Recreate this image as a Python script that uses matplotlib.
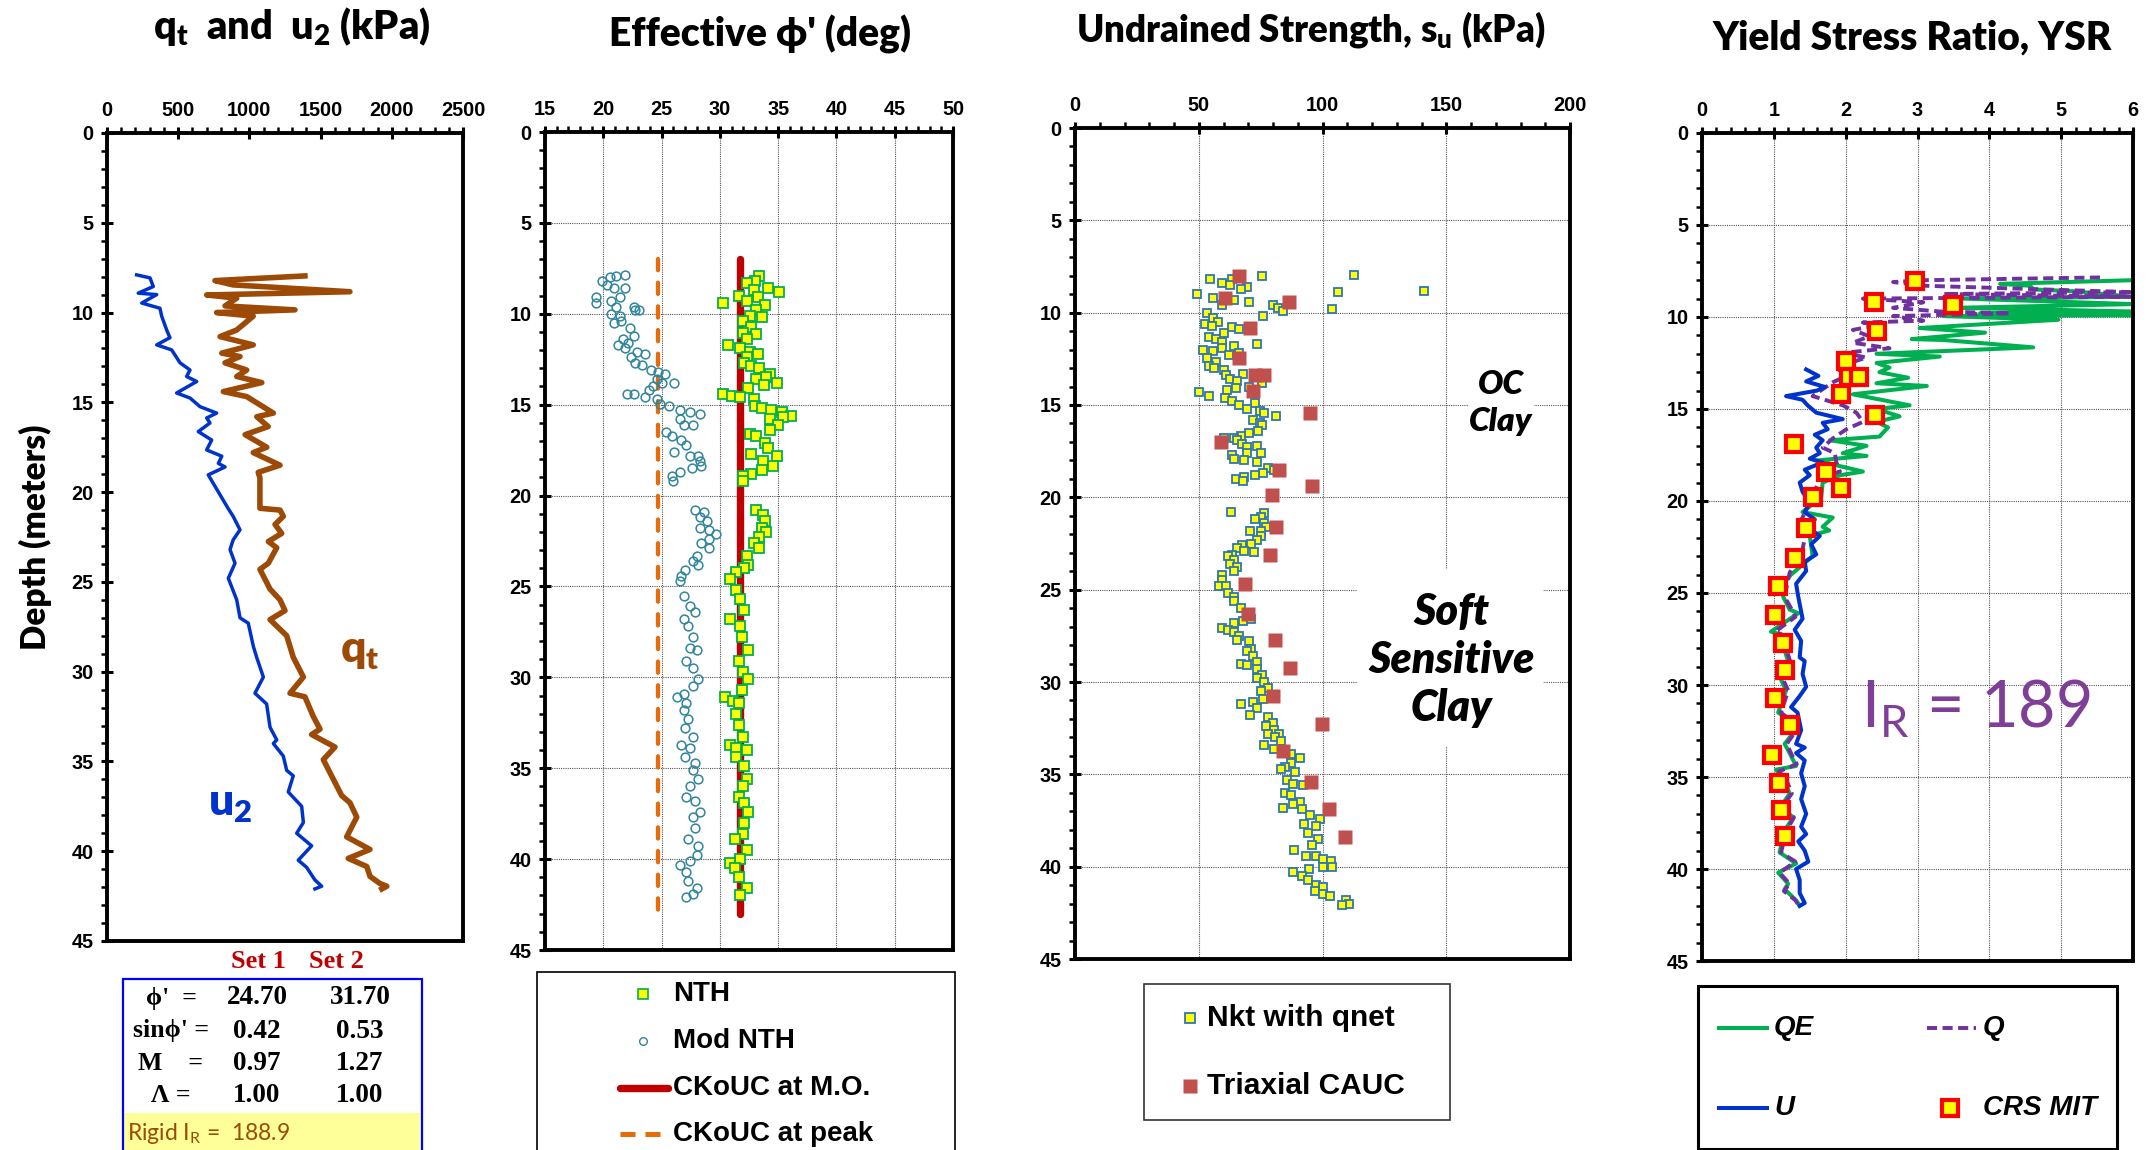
import numpy as np
import matplotlib
matplotlib.use('Agg')
import matplotlib.pyplot as plt
from matplotlib.lines import Line2D
from matplotlib.patches import Rectangle
from matplotlib.ticker import MultipleLocator

##########################################################################
##  Data
##########################################################################

# panel 1 : cone tip and pore pressure (kPa) vs depth (m)
qt_depth = [7.96, 8.22, 8.46, 8.84, 9.02, 9.2, 9.63, 9.85, 10.0, 10.2,
            10.97, 11.34, 11.8, 12.26, 12.45, 12.8, 13.2, 13.56, 13.9, 14.4,
            14.68, 15.6, 15.8, 16.35, 16.8, 17.5, 17.8, 18.5, 18.9, 19.2,
            20.9, 21.0, 21.35, 21.8, 22.3, 22.75, 23.1, 23.96, 24.3, 25.4,
            26.0, 26.6, 27.1, 28.0, 29.2, 30.3, 31.2, 31.4, 32.5, 33.2,
            33.5, 34.2, 34.9, 36.0, 36.9, 37.3, 38.1, 39.2, 39.9, 40.4,
            40.85, 41.4, 41.8, 41.95, 42.1]
qt_kpa = [1390, 758, 885, 1706, 700, 911, 829, 1320, 770, 1027,
          911, 794, 1027, 806, 934, 829, 981, 911, 1087, 817,
          981, 1168, 1052, 1132, 970, 1122, 1027, 1215, 1062, 1074,
          1074, 1215, 1238, 1180, 1227, 1133, 1192, 1133, 1074, 1145,
          1215, 1250, 1145, 1262, 1308, 1379, 1285, 1390, 1449, 1496,
          1437, 1601, 1519, 1590, 1648, 1706, 1754, 1683, 1847, 1694,
          1824, 1847, 1917, 1965, 1930]
u2_depth = [7.9, 8.07, 8.55, 8.92, 9.0, 9.47, 9.76, 10.2, 10.97, 11.4,
            11.8, 12.08, 12.8, 13.2, 13.56, 13.84, 14.48, 14.76, 15.24, 15.6,
            15.87, 16.15, 16.63, 17.1, 17.65, 18.0, 18.4, 18.6, 19.04, 20.9,
            21.35, 22.1, 22.66, 23.2, 23.96, 24.8, 26.0, 27.0, 27.3, 28.6,
            29.2, 30.3, 31.2, 31.8, 33.1, 33.8, 34.0, 34.7, 35.5, 35.8,
            36.7, 37.5, 38.4, 39.0, 39.7, 40.5, 40.9, 41.6, 41.95, 42.1]
u2_kpa = [208, 302, 325, 219, 349, 244, 372, 384, 419, 442,
          349, 454, 513, 583, 559, 630, 489, 583, 653, 770,
          700, 723, 641, 735, 700, 806, 782, 829, 711, 850,
          886, 934, 886, 864, 899, 852, 911, 934, 992, 1028,
          1051, 1098, 1039, 1121, 1145, 1192, 1168, 1238, 1262, 1308,
          1273, 1367, 1379, 1332, 1437, 1343, 1402, 1460, 1508, 1460]

# table under panel 1
table_rows = ["ϕ'  =", "sinϕ' =", "M    =", "Λ ="]
set1_vals = ["24.70", "0.42", "0.97", "1.00"]
set2_vals = ["31.70", "0.53", "1.27", "1.00"]
rigid_ir = 188.9

# panel 2 : friction angle (deg)
nth_phi = [30.3, 35.1, 34.1, 33.4, 33.0, 32.3, 32.9, 31.6, 32.3, 33.3,
           33.9, 33.1, 33.6, 32.6, 32.0, 32.7, 32.0, 33.1, 32.3, 30.7,
           31.7, 32.6, 33.3, 32.3, 32.1, 32.7, 33.4, 34.3, 34.0, 33.1,
           33.8, 34.9, 32.4, 30.3, 31.0, 31.7, 32.9, 33.0, 33.6, 34.4,
           35.3, 36.1, 35.4, 34.3, 35.0, 34.3, 32.6, 33.1, 33.9, 34.1,
           32.7, 34.9, 33.7, 34.6, 33.6, 32.7, 32.0, 32.0, 33.1, 33.7,
           33.9, 33.6, 34.0, 33.4, 32.9, 33.4, 32.3, 32.4, 32.1,
           31.4, 30.9, 31.4, 31.7, 32.1, 30.9, 31.7, 31.9, 32.4, 31.6,
           32.0, 32.4, 31.9, 30.4, 31.1, 31.6, 31.4, 31.6, 32.0, 30.9,
           31.4, 32.3, 31.4, 32.1, 32.3, 32.0, 31.6, 32.1, 32.4, 32.1,
           32.0, 31.3, 32.3, 31.7, 30.9, 31.3, 31.6, 32.3, 31.7]
nth_depth = [9.4, 8.8, 8.6, 7.9, 8.2, 8.3, 8.7, 9.0, 9.3, 9.05,
             9.5, 9.8, 10.2, 10.1, 10.4, 10.7, 11.05, 11.1, 11.4, 11.7,
             11.9, 12.1, 12.2, 12.4, 12.7, 12.9, 13.0, 13.3, 13.5, 13.6,
             13.9, 13.8, 14.1, 14.4, 14.5, 14.6, 14.7, 15.05, 15.2, 15.3,
             15.4, 15.6, 15.7, 15.8, 16.1, 16.4, 16.6, 16.7, 17.1, 17.4,
             17.7, 17.8, 18.1, 18.4, 18.6, 18.8, 18.9, 19.2, 20.8, 21.05,
             21.4, 21.8, 22.0, 22.3, 22.6, 22.9, 23.3, 23.8, 24.0,
             24.2, 24.6, 25.2, 25.7, 26.3, 26.8, 27.2, 27.8, 28.5, 29.1,
             29.7, 30.1, 30.7, 31.1, 31.3, 31.4, 32.0, 32.6, 33.3, 33.7,
             33.9, 34.0, 34.4, 34.9, 35.6, 36.0, 36.6, 36.9, 37.4, 38.0,
             38.6, 38.9, 39.5, 40.0, 40.2, 40.5, 41.0, 41.6, 42.0]
mod_phi = [19.4, 19.4, 19.9, 20.6, 21.1, 21.9, 20.3, 20.9, 21.9, 20.7,
           21.4, 21.1, 22.6, 22.7, 23.1, 20.7, 21.4, 20.9, 21.5, 22.3,
           22.6, 21.7, 21.3, 22.1, 21.9, 22.9, 23.6, 22.4, 22.7, 23.3,
           24.1, 24.7, 25.3, 24.6, 25.0, 26.1, 24.3, 23.9, 23.6, 22.6,
           22.0, 24.6, 24.9, 25.6, 26.6, 27.4, 28.3, 26.6, 26.9, 27.7,
           25.4, 25.9, 26.7, 27.1, 26.1, 27.4, 28.1, 28.3, 28.4, 27.6,
           26.6, 25.9, 26.0, 27.9, 28.6, 28.3, 28.9, 28.3, 29.1, 29.7,
           29.1, 28.4, 29.1, 28.0, 27.7, 28.1, 27.0, 26.7, 26.6,
           26.9, 27.4, 27.9, 26.9, 27.3, 27.7, 27.4, 28.0, 27.1, 27.7,
           28.1, 27.7, 26.3, 26.9, 27.1, 26.9, 27.3, 27.0, 27.7, 26.7,
           27.4, 27.0, 27.9, 27.7, 28.1, 27.4, 27.1, 27.9, 28.3, 27.7,
           27.9, 27.3, 28.1, 28.0, 27.4, 26.6, 27.1, 27.3, 28.0, 27.7,
           27.1]
mod_depth = [9.05, 9.4, 8.2, 8.0, 7.9, 7.85, 8.4, 8.6, 8.6, 9.3,
             9.05, 9.6, 9.6, 9.8, 9.8, 10.0, 10.1, 10.5, 10.4, 10.8,
             11.2, 11.4, 11.7, 11.6, 11.9, 12.1, 12.2, 12.4, 12.7, 12.8,
             13.1, 13.2, 13.3, 13.6, 13.8, 13.8, 14.0, 14.2, 14.6, 14.4,
             14.4, 14.7, 14.95, 15.05, 15.3, 15.4, 15.5, 15.8, 16.1, 16.1,
             16.5, 16.7, 16.95, 17.2, 17.6, 17.8, 17.8, 18.1, 18.4, 18.5,
             18.7, 18.9, 19.2, 20.8, 20.9, 21.2, 21.4, 21.8, 21.9, 22.1,
             22.4, 22.6, 22.9, 23.3, 23.6, 23.8, 24.1, 24.4, 24.7,
             25.5, 26.1, 26.4, 26.8, 27.2, 27.8, 28.4, 28.5, 29.1, 29.5,
             30.1, 30.5, 31.1, 30.9, 31.4, 31.8, 32.3, 32.8, 33.3, 33.7,
             33.9, 34.4, 34.7, 35.1, 35.6, 36.0, 36.6, 36.8, 37.4, 37.7,
             38.3, 38.9, 39.3, 39.8, 40.1, 40.3, 40.7, 41.2, 41.6, 41.9,
             42.1]
phi_mo = 31.7
phi_peak = 24.7
ckouc_depth = [7.0, 43.0]

# panel 3 : undrained strength (kPa)
nkt_su = [54.5, 59.5, 63.3, 62.6, 69.5, 66.9, 75.7, 112.7, 106.3, 141.0,
          49.1, 55.6, 64.1, 59.5, 70.3, 79.8, 81.9, 84.2, 104.0, 76.1,
          53.3, 55.6, 57.9, 52.5, 55.3, 63.3, 66.4, 60.2, 54.1, 57.1,
          59.5, 73.5, 64.1, 59.2, 51.7, 55.6, 66.4, 62.2, 53.3, 57.1,
          54.1, 56.3, 60.2, 61.0, 67.9, 62.5, 65.3, 75.7, 70.3, 61.3,
          65.0, 50.2, 54.3, 60.7, 63.3, 66.4, 72.6, 69.5, 74.9, 76.4,
          81.4, 71.8, 74.9, 75.7, 74.1, 70.3, 66.9, 64.1, 60.2, 65.6,
          67.5, 69.5, 73.5, 69.5, 75.0, 63.3, 64.1, 68.4, 73.5, 78.0,
          80.3, 76.1, 72.6, 68.4, 64.9, 67.9, 63.0, 76.4, 75.0, 72.6,
          76.4, 77.2, 75.0, 70.6, 75.0, 73.5, 71.0, 67.5, 65.6, 68.4,
          72.3, 63.3, 61.8, 64.1, 62.6, 65.3, 64.4, 59.5, 59.2, 58.2,
          61.0, 61.8, 64.1,
          64.1, 67.2, 69.5, 71.0, 67.9, 64.1, 59.2, 61.8, 64.4, 66.4,
          65.6, 70.3, 71.0, 69.5, 71.8, 73.7, 67.2, 69.5, 73.4, 75.7,
          73.4, 76.4, 78.0, 75.0, 76.1, 66.9, 71.8, 73.4, 70.6, 78.0,
          79.8, 77.2, 80.3, 78.0, 82.6, 80.8, 83.4, 76.4, 80.3, 84.2,
          87.3, 91.1, 87.3, 84.9, 83.4, 88.8, 85.7, 88.0, 92.2, 84.9,
          87.3, 91.1, 88.0, 84.2, 91.6, 95.0, 98.9, 92.7, 97.5, 94.2,
          98.1, 95.8, 88.5, 93.4, 97.5, 100.4, 103.5, 100.4, 103.8, 94.7,
          88.0, 91.9, 94.2, 97.3, 100.4, 96.8, 100.1, 103.0, 109.3, 110.7,
          107.8]
nkt_depth = [8.2, 8.4, 8.15, 8.5, 8.6, 8.7, 8.0, 7.95, 8.9, 8.8,
             9.0, 9.2, 9.3, 9.6, 9.4, 9.6, 9.75, 9.9, 9.8, 10.2,
             10.0, 10.3, 10.5, 10.6, 10.7, 10.8, 10.9, 11.1, 11.3, 11.4,
             11.6, 11.7, 11.8, 11.9, 12.0, 12.1, 12.2, 12.3, 12.45, 12.65,
             12.9, 13.0, 13.1, 13.4, 13.3, 13.6, 13.7, 13.8, 14.0, 14.2,
             14.1, 14.3, 14.5, 14.6, 14.8, 15.0, 14.9, 15.2, 15.3, 15.45,
             15.6, 15.8, 16.0, 16.1, 16.4, 16.5, 16.7, 16.8, 16.8, 16.9,
             17.1, 17.3, 17.2, 17.6, 17.6, 17.7, 17.9, 18.0, 18.1, 18.4,
             18.5, 18.7, 18.8, 18.9, 19.0, 19.1, 20.8, 20.85, 21.05, 21.2,
             21.4, 21.6, 21.8, 21.85, 22.1, 22.3, 22.5, 22.6, 22.75, 22.9,
             22.95, 23.1, 23.2, 23.4, 23.6, 23.75, 24.0, 24.2, 24.5, 24.8,
             24.8, 25.2, 25.4,
             25.6, 26.0, 26.4, 26.6, 26.7, 26.8, 27.1, 27.2, 27.3, 27.5,
             27.7, 27.8, 28.2, 28.3, 28.6, 28.9, 29.0, 29.1, 29.3, 29.6,
             29.8, 30.0, 30.3, 30.5, 30.9, 31.2, 31.1, 31.4, 31.8, 31.9,
             32.2, 32.4, 32.6, 32.8, 32.8, 33.0, 33.2, 33.4, 33.65, 33.75,
             33.9, 34.1, 34.4, 34.6, 34.7, 34.85, 35.3, 35.5, 35.6, 36.0,
             36.1, 36.5, 36.6, 36.8, 36.9, 37.2, 37.4, 37.7, 37.8, 38.2,
             38.5, 38.8, 39.1, 39.4, 39.4, 39.6, 39.7, 40.0, 40.0, 40.1,
             40.3, 40.5, 40.7, 41.0, 41.1, 41.3, 41.5, 41.6, 41.8, 42.0,
             42.1]
triax_su = [66.1, 60.7, 86.5, 70.6, 66.4, 72.6, 76.4, 72.1, 95.0, 59.0,
            82.6, 95.8, 79.5, 81.1, 78.8, 68.7, 70.0, 80.8, 86.8, 79.8,
            99.6, 83.9, 95.4, 102.7, 108.9]
triax_depth = [8.0, 9.2, 9.4, 10.85, 12.45, 13.35, 13.35, 14.25, 15.45, 17.0,
               18.5, 19.4, 19.9, 21.6, 23.1, 24.7, 26.3, 27.7, 29.25, 30.75,
               32.3, 33.75, 35.4, 36.9, 38.4]

# panel 4 : yield stress ratio
qe_depth = [8.0, 8.2, 8.3, 8.5, 8.6, 8.9, 9.0, 9.3, 9.5, 9.7,
            9.8, 9.9, 9.95, 10.15, 10.5, 10.6, 10.85, 11.2, 11.25, 11.65,
            12.0, 12.15, 12.5, 12.75, 13.0, 13.3, 13.6, 13.75, 14.2, 14.8,
            15.0, 15.4, 15.7, 16.0, 16.5, 16.7, 17.0, 17.4, 17.55, 17.8,
            18.4, 18.6, 19.0, 19.8, 20.6, 20.9, 21.4, 21.6, 21.9, 23.0,
            24.0, 24.5, 25.2, 25.9, 26.1, 27.1, 27.4, 28.1, 29.0, 29.7,
            30.3, 31.5, 31.9, 32.6, 33.2, 33.7, 34.4, 34.6, 35.2, 35.9,
            36.6, 37.2, 37.9, 39.1, 39.7, 40.2, 40.8, 41.1, 41.7, 42.0]
qe_ysr = [6.0, 4.15, 4.57, 4.61, 5.17, 6.0, 3.64, 6.0, 3.54, 6.0,
          3.87, 6.0, 3.36, 4.96, 3.45, 3.03, 3.94, 2.92, 3.36, 4.61,
          2.43, 3.31, 2.43, 2.61, 2.47, 2.87, 2.43, 3.13, 2.10, 2.89,
          2.43, 2.75, 2.43, 2.59, 2.47, 1.78, 2.29, 1.96, 2.29, 1.59,
          2.24, 1.92, 1.68, 1.66, 1.40, 1.82, 1.68, 1.77, 1.50, 1.54,
          1.24, 1.13, 1.13, 1.22, 1.34, 0.96, 1.22, 1.15, 1.22, 1.10,
          1.17, 1.06, 1.22, 1.27, 1.15, 1.22, 1.31, 1.03, 1.15, 1.22,
          1.10, 1.27, 1.15, 1.08, 1.31, 1.06, 1.20, 1.15, 1.31, 1.36]
q_depth = [7.85, 8.0, 8.1, 8.3, 8.65, 8.75, 8.9, 9.0, 9.2, 9.5,
           9.7, 9.8, 9.95, 10.2, 10.3, 10.4, 10.7, 11.05, 11.4, 11.7,
           11.95, 12.2, 12.75, 13.2, 13.55, 14.3, 14.8, 15.2, 15.7, 16.1,
           16.6, 17.1, 17.4, 17.9, 18.4, 18.8, 20.1, 21.2, 21.7, 22.6,
           23.9, 25.2, 25.9, 26.3, 27.1, 27.5, 28.1, 29.0, 29.7, 30.3,
           31.5, 32.0, 32.6, 33.2, 33.8, 34.3, 34.7, 35.2, 35.9, 36.6,
           37.2, 37.9, 39.1, 39.6, 40.2, 40.8, 41.2, 41.7, 42.0]
q_ysr = [5.54, 3.08, 2.66, 3.08, 6.0, 3.36, 6.0, 2.24, 3.08, 2.66,
         3.31, 4.29, 2.66, 3.08, 2.24, 2.52, 2.10, 2.33, 2.10, 2.61,
         1.96, 2.29, 1.87, 2.01, 1.82, 1.54, 1.96, 2.15, 2.24, 2.01,
         1.82, 1.68, 1.85, 1.87, 1.92, 1.64, 1.50, 1.36, 1.45, 1.40,
         1.22, 1.15, 1.25, 1.30, 1.02, 1.25, 1.18, 1.25, 1.13, 1.20,
         1.10, 1.26, 1.29, 1.18, 1.25, 1.32, 1.07, 1.18, 1.25, 1.12,
         1.28, 1.18, 1.10, 1.30, 1.08, 1.22, 1.14, 1.30, 1.35]
u_depth = [12.85, 13.2, 13.5, 13.8, 14.0, 14.3, 14.5, 14.8, 15.2, 15.55,
           15.75, 16.1, 16.4, 16.7, 17.1, 17.4, 17.7, 17.9, 18.3, 18.6,
           19.0, 19.5, 20.1, 20.6, 21.0, 21.5, 21.9, 22.35, 22.9, 23.3,
           23.8, 24.5, 25.2, 26.4, 27.0, 27.6, 28.5, 28.7, 29.4, 30.1,
           30.6, 31.2, 31.5, 32.45, 33.2, 33.4, 33.7, 34.1, 34.8, 35.5,
           36.2, 37.0, 37.7, 38.1, 38.5, 39.0, 39.6, 40.0, 40.6, 41.3,
           41.85, 42.0]
u_ysr = [1.45, 1.62, 1.45, 1.71, 1.60, 1.17, 1.40, 1.47, 1.59, 1.96,
         1.68, 1.75, 1.57, 1.68, 1.59, 1.64, 1.50, 1.68, 1.43, 1.50,
         1.36, 1.40, 1.50, 1.43, 1.57, 1.50, 1.64, 1.52, 1.59, 1.43,
         1.45, 1.31, 1.34, 1.40, 1.29, 1.38, 1.36, 1.43, 1.40, 1.45,
         1.36, 1.24, 1.33, 1.38, 1.31, 1.43, 1.31, 1.43, 1.38, 1.43,
         1.38, 1.45, 1.38, 1.45, 1.34, 1.43, 1.48, 1.31, 1.36, 1.36,
         1.43, 1.36]
crs_ysr = [2.96, 2.40, 3.49, 2.44, 2.0, 2.05, 2.19, 1.93, 2.41, 1.28,
           1.73, 1.94, 1.54, 1.45, 1.30, 1.06, 1.02, 1.13, 1.16, 1.01,
           1.23, 0.97, 1.07, 1.10, 1.15]
crs_depth = [8.04, 9.18, 9.35, 10.76, 12.4, 13.26, 13.26, 14.2, 15.3, 16.9,
             18.4, 19.3, 19.8, 21.45, 23.1, 24.6, 26.2, 27.7, 29.2, 30.7,
             32.2, 33.8, 35.3, 36.8, 38.2]

##########################################################################
##  Figure setup (positions are in reference pixels)
##########################################################################

W, H = 2151, 1150


def fx(px):
    return px / W


def fy(py):
    return 1 - py / H


plt.rcParams['font.family'] = ['Liberation Sans', 'DejaVu Sans']
plt.rcParams['font.weight'] = 'bold'
LATO = ['Lato', 'DejaVu Sans']
SERIF = ['Liberation Serif', 'DejaVu Serif']

fig = plt.figure(figsize=(W / 100, H / 100), dpi=100)


def depth_axes(left, right, top, bottom, xlim, xmajor, xminor, grid=True):
    ax = fig.add_axes([fx(left), fy(bottom), (right - left) / W, (bottom - top) / H])
    ax.set_xlim(*xlim)
    ax.set_ylim(45, 0)
    ax.xaxis.set_major_locator(MultipleLocator(xmajor))
    ax.xaxis.set_minor_locator(MultipleLocator(xminor))
    ax.yaxis.set_major_locator(MultipleLocator(5))
    ax.yaxis.set_minor_locator(MultipleLocator(1))
    ax.tick_params(which='both', top=True, bottom=False, left=True, right=False,
                   labeltop=True, labelbottom=False)
    ax.tick_params(which='major', direction='inout', length=9, width=2.2,
                   labelsize=14.3, pad=5)
    ax.tick_params(which='minor', direction='out', length=4, width=1.8)
    for s in ax.spines.values():
        s.set_linewidth(2.8)
    if grid:
        ax.grid(True, which='major', color='#555555', lw=0.8, ls=(0, (1, 1)))
    ax.set_axisbelow(True)
    return ax


def title(cx, cy, txt, size=28):
    fig.text(fx(cx), fy(cy), txt, ha='center', va='center', fontsize=size,
             family=LATO, weight='heavy')


def box(x0, y0, x1, y1, **kw):
    fig.add_artist(Rectangle((fx(x0), fy(y1)), (x1 - x0) / W, (y1 - y0) / H,
                             transform=fig.transFigure, **kw))


def fig_line(x0, x1, y, **kw):
    fig.add_artist(Line2D([fx(x0), fx(x1)], [fy(y), fy(y)],
                          transform=fig.transFigure, **kw))


def fig_marker(x, y, **kw):
    fig.add_artist(Line2D([fx(x)], [fy(y)], ls='none',
                          transform=fig.transFigure, **kw))


def fig_label(x, y, txt, size=20, style='normal', **kw):
    fig.text(fx(x), fy(y), txt, ha='left', va='center', fontsize=size,
             weight='bold', style=style, **kw)


##########################################################################
##  Panel 1 : qt and u2
##########################################################################

ax1 = depth_axes(107, 463, 133, 941, (0, 2500), 500, 100, grid=False)
ax1.plot(u2_kpa, u2_depth, color='#0033CC', lw=2.5)
ax1.plot(qt_kpa, qt_depth, color='#9C4A06', lw=4.0)
ax1.text(1777, 28.9, r'q$_\mathregular{t}$', color='#9C4A06', fontsize=32,
         family=LATO, weight='heavy', ha='center', va='center')
ax1.text(864, 37.4, r'u$_\mathregular{2}$', color='#0033CC', fontsize=32,
         family=LATO, weight='heavy', ha='center', va='center')
ax1.set_ylabel('Depth (meters)', fontsize=24, family=LATO, weight='heavy')
ax1.yaxis.set_label_coords(-0.155, 0.5)
title(292, 27, r'q$_\mathregular{t}$  and  u$_\mathregular{2}$ (kPa)', 28.5)

# parameter table
fig.text(fx(258), fy(962), 'Set 1', ha='center', va='center', color='#C00000',
         fontsize=19, family=SERIF, weight='bold')
fig.text(fx(336), fy(962), 'Set 2', ha='center', va='center', color='#C00000',
         fontsize=19, family=SERIF, weight='bold')
box(124, 1113, 421, 1160, facecolor='#FFFF99', edgecolor='none')
box(123, 979, 422, 1160, facecolor='none', edgecolor='#0000FF', lw=1.6)
row_y = [998, 1031, 1064, 1096]
for lab, v1, v2, ry in zip(table_rows, set1_vals, set2_vals, row_y):
    fig.text(fx(171), fy(ry), lab, ha='center', va='center', fontsize=18.5,
             family=SERIF, weight='bold')
    fig.text(fx(257), fy(ry), v1, ha='center', va='center', fontsize=19.5,
             family=SERIF, weight='bold')
    fig.text(fx(360), fy(ry), v2, ha='center', va='center', fontsize=19.5,
             family=SERIF, weight='bold')
fig.text(fx(127), fy(1134), r'Rigid I$_\mathregular{R}$ =  %.1f' % rigid_ir,
         ha='left', va='center', fontsize=16.5, family=LATO, weight='normal',
         color='#9A4B0A')

##########################################################################
##  Panel 2 : effective friction angle
##########################################################################

ax2 = depth_axes(545, 953, 132, 950, (15, 50), 5, 1)
ax2.plot([phi_peak, phi_peak], ckouc_depth, color='#E46C0A', lw=3.1,
         ls=(0, (2.6, 2.9)), dash_capstyle='round')
ax2.plot([phi_mo, phi_mo], ckouc_depth, color='#C00000', lw=5.3,
         solid_capstyle='round')
ax2.plot(mod_phi, mod_depth, ls='none', marker='o', ms=6.3, mfc='none',
         mec='#31859C', mew=1.1)
ax2.plot(nth_phi, nth_depth, ls='none', marker='s', ms=6.8, mfc='#FFFF00',
         mec='#00B050', mew=1.3)
title(760, 34, "Effective ϕ' (deg)", 28)

box(537, 972, 955, 1160, facecolor='none', edgecolor='black', lw=1.2)
fig_marker(643, 994, marker='s', ms=7, mfc='#FFFF00', mec='#00B050', mew=1.2)
fig_label(673, 994, 'NTH')
fig_marker(643, 1041, marker='o', ms=5.5, mfc='none', mec='#31859C', mew=1.0)
fig_label(673, 1041, 'Mod NTH')
fig_line(620, 668, 1088, color='#C00000', lw=5.3, solid_capstyle='round')
fig_label(673, 1088, 'CKoUC at M.O.')
fig_line(620, 668, 1134, color='#E46C0A', lw=3.6, ls=(0, (3.0, 2.0)))
fig_label(673, 1134, 'CKoUC at peak')

##########################################################################
##  Panel 3 : undrained strength
##########################################################################

ax3 = depth_axes(1075, 1570, 128, 959, (0, 200), 50, 10)
ax3.add_patch(Rectangle((114, 23.9), 75, 9.6, facecolor='white',
                        edgecolor='none', zorder=1.5))
ax3.plot(nkt_su, nkt_depth, ls='none', marker='s', ms=5.8, mfc='#FFFF00',
         mec='#2E75B6', mew=1.3)
ax3.plot(triax_su, triax_depth, ls='none', marker='s', ms=9.5, mfc='#C0504D',
         mec='none')
ax3.text(172, 14.9, 'OC\nClay', ha='center', va='center', fontsize=24,
         family=LATO, weight='heavy', style='italic', linespacing=1.35,
         bbox=dict(facecolor='white', edgecolor='none', pad=1))
ax3.text(152, 28.8, 'Soft\nSensitive\nClay', ha='center', va='center',
         fontsize=31, family=LATO, weight='heavy', style='italic',
         linespacing=1.25, zorder=3)
title(1311, 29, r'Undrained Strength, s$_\mathregular{u}$ (kPa)', 26.5)

box(1144, 984, 1450, 1120, facecolor='none', edgecolor='#333333', lw=1.2)
fig_marker(1190, 1018, marker='s', ms=6.5, mfc='#FFFF00', mec='#2E75B6', mew=1.3)
fig_label(1207, 1018, 'Nkt with qnet', size=21.5)
fig_marker(1190, 1086, marker='s', ms=10, mfc='#C0504D', mec='none')
fig_label(1207, 1086, 'Triaxial CAUC', size=21.5)

##########################################################################
##  Panel 4 : yield stress ratio
##########################################################################

ax4 = depth_axes(1702, 2133, 133, 961, (0, 6), 1, 0.2)
ax4.plot(qe_ysr, qe_depth, color='#00B050', lw=2.9)
ax4.plot(q_ysr, q_depth, color='#7030A0', lw=2.8, ls=(0, (2.6, 1.4)))
ax4.plot(u_ysr, u_depth, color='#0033CC', lw=2.9)
ax4.plot(crs_ysr, crs_depth, ls='none', marker='s', ms=11, mfc='#FFFF00',
         mec='#FF0000', mew=3)
ax4.text(2.22, 32.3, r'I$_\mathregular{R}$ = 189', ha='left', va='baseline',
         fontsize=46.5, family=LATO, weight='normal', color='#7F3F98')
title(1912, 38, 'Yield Stress Ratio, YSR', 28)

box(1698, 986, 2117, 1149, facecolor='none', edgecolor='black', lw=2.2)
fig_line(1719, 1767, 1028, color='#00B050', lw=2.9)
fig_label(1774, 1028, 'QE', style='italic')
fig_line(1927, 1976, 1028, color='#7030A0', lw=2.8, ls=(0, (2.6, 1.4)))
fig_label(1983, 1028, 'Q', style='italic')
fig_line(1719, 1767, 1108, color='#0033CC', lw=2.9)
fig_label(1774, 1108, 'U', style='italic')
fig_marker(1950, 1108, marker='s', ms=11, mfc='#FFFF00', mec='#FF0000', mew=3)
fig_label(1983, 1108, 'CRS MIT', style='italic')

fig.savefig('out.png', dpi=100)
